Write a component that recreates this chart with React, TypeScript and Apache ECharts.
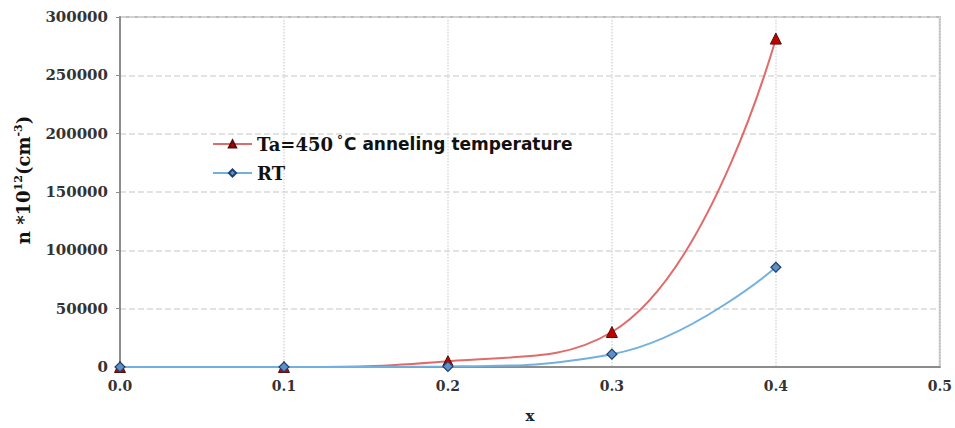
import React, { useEffect, useRef } from "react";
import * as echarts from "echarts";

const xValues = [0.0, 0.1, 0.2, 0.3, 0.4];
const annealed = [0, 0, 5000, 30000, 281500];
const roomTemp = [0, 0, 500, 11000, 85500];
const yTicks = [0, 50000, 100000, 150000, 200000, 250000, 300000];

export default function App() {
  const ref = useRef<HTMLDivElement>(null);
  useEffect(() => {
    document.body.style.margin = "0";
    document.body.style.overflow = "hidden";
    if (!ref.current) return;
    const chart = echarts.init(ref.current, undefined, { renderer: "svg" });
    const serif = "'DejaVu Serif', 'Liberation Serif', serif";
    const sans = "'DejaVu Sans', 'Liberation Sans', sans-serif";
    chart.setOption({
      animation: false,
      backgroundColor: "#ffffff",
      grid: {
        left: 120,
        right: 15,
        top: 17,
        bottom: 55,
        show: true,
        borderColor: "#bdbdbd",
        borderWidth: 2,
        containLabel: false,
      },
      legend: {
        left: 207,
        top: 129,
        orient: "vertical",
        itemGap: 11,
        itemWidth: 39,
        itemHeight: 9,
        data: ["Ta", "RT"],
        formatter: (name: string) =>
          name === "Ta"
            ? "{s|Ta=450}{sup|°}{a|C anneling temperature}"
            : "{s|RT}",
        textStyle: {
          color: "#111",
          rich: {
            s: { fontFamily: serif, fontWeight: "bold", fontSize: 18, color: "#111", height: 20 },
            a: { fontFamily: sans, fontWeight: "bold", fontSize: 17, color: "#111", height: 20 },
            sup: { fontFamily: sans, fontWeight: "bold", fontSize: 12, color: "#111", verticalAlign: "top", padding: [0, 1, 8, 4] },
          },
        },
      },
      xAxis: {
        type: "value",
        min: 0,
        max: 0.5,
        interval: 0.1,
        name: "x",
        nameLocation: "middle",
        nameGap: 41,
        nameTextStyle: { fontFamily: serif, fontWeight: "bold", fontSize: 15, color: "#222" },
        axisLine: { show: true, lineStyle: { color: "#8c8c8c", width: 2 } },
        axisTick: { show: false },
        axisLabel: {
          fontFamily: serif,
          fontWeight: "bold",
          fontSize: 14,
          color: "#333",
          margin: 12,
          formatter: (v: number) => v.toFixed(1),
        },
        splitLine: { show: true, lineStyle: { color: "#d9d9d9", type: "dotted", width: 1.5 } },
      },
      yAxis: {
        type: "value",
        min: yTicks[0],
        max: yTicks[yTicks.length - 1],
        interval: 50000,
        name: "{b|n *10}{sup|12}{b|(cm}{sup|-3}{b|)}",
        nameLocation: "middle",
        nameGap: 86,
        nameRotate: 90,
        nameTextStyle: {
          padding: [0, 0, 0, 24],
          rich: {
            b: { fontFamily: serif, fontWeight: "bold", fontSize: 18, color: "#111" },
            sup: { fontFamily: serif, fontWeight: "bold", fontSize: 11, color: "#111", verticalAlign: "top", padding: [0, 0, 10, 0] },
          },
        },
        axisLine: { show: true, lineStyle: { color: "#8c8c8c", width: 2 } },
        axisTick: { show: true, length: 4, inside: false, lineStyle: { color: "#8c8c8c" } },
        axisLabel: {
          fontFamily: serif,
          fontWeight: "bold",
          fontSize: 15,
          color: "#333",
          margin: 12,
          formatter: (v: number) => String(v),
        },
        splitLine: { show: true, lineStyle: { color: "#d9d9d9", type: "dashed", width: 1.5 } },
      },
      series: [
        {
          name: "Ta",
          type: "line",
          smooth: 0.45,
          data: xValues.map((x, i) => [x, annealed[i]]),
          symbol: "triangle",
          symbolSize: 11,
          lineStyle: { color: "#e06b6b", width: 2 },
          itemStyle: { color: "#c00000", borderColor: "#5a0d0d", borderWidth: 1 },
          z: 3,
        },
        {
          name: "RT",
          type: "line",
          smooth: 0.45,
          data: xValues.map((x, i) => [x, roomTemp[i]]),
          symbol: "diamond",
          symbolSize: 10,
          lineStyle: { color: "#72b0e0", width: 2 },
          itemStyle: { color: "#5f8fc7", borderColor: "#1f3f6e", borderWidth: 1.2 },
          z: 4,
        },
      ],
    });
    return () => chart.dispose();
  }, []);
  return <div ref={ref} style={{ width: 955, height: 428 }} />;
}
